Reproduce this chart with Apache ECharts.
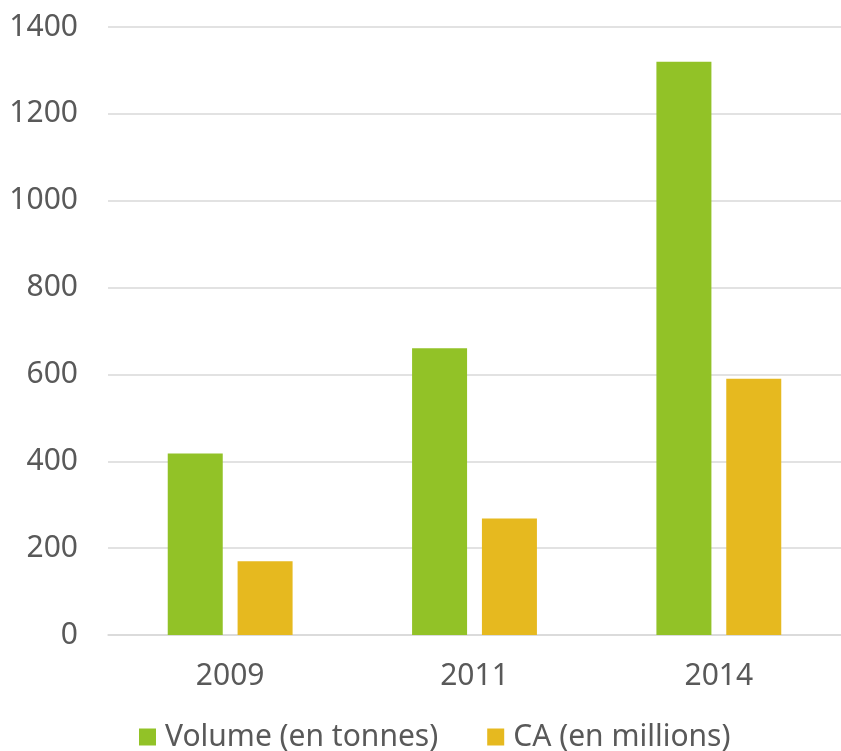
<!DOCTYPE html>
<html><head><meta charset="utf-8">
<script src="https://cdn.jsdelivr.net/npm/echarts@6/dist/echarts.min.js"></script>
<style>html,body{margin:0;padding:0;background:#fff}#c{width:841px;height:751px}</style>
</head><body><div id="c"></div>
<script>
const categories = ['2009', '2011', '2014'];
const volume = [418, 660, 1320];
const ca = [170, 268, 590];
const seriesNames = ['Volume (en tonnes)', 'CA (en millions)'];

const font = 'Noto Sans';
const txt = '#595959';
const chart = echarts.init(document.getElementById('c'));
chart.setOption({
  animation: false,
  grid: { left: 108, right: -4, top: 27, bottom: 116, containLabel: false },
  legend: {
    top: 722, left: 139,
    itemWidth: 17, itemHeight: 17, itemGap: 49,
    icon: 'rect', padding: 0,
    textStyle: { color: txt, fontSize: 30, fontFamily: font, lineHeight: 30, padding: [0, 0, 0, 4] },
    data: seriesNames
  },
  xAxis: {
    type: 'category', data: categories,
    axisLine: { lineStyle: { color: '#d9d9d9', width: 1.5 } },
    axisTick: { show: false },
    axisLabel: { color: txt, fontSize: 30, fontFamily: font, margin: 26 }
  },
  yAxis: {
    type: 'value', min: 0, max: 1400, interval: 200,
    axisLine: { show: false }, axisTick: { show: false },
    splitLine: { lineStyle: { color: '#d9d9d9', width: 1.5 } },
    axisLabel: { color: txt, fontSize: 30, fontFamily: font, margin: 30,
      formatter: function (v) { return String(v); } }
  },
  series: [
    { name: seriesNames[0], type: 'bar', data: volume, barWidth: 55, barGap: '27%',
      itemStyle: { color: '#92C227' } },
    { name: seriesNames[1], type: 'bar', data: ca, barWidth: 55,
      itemStyle: { color: '#E6B91F' } }
  ]
});
</script></body></html>
